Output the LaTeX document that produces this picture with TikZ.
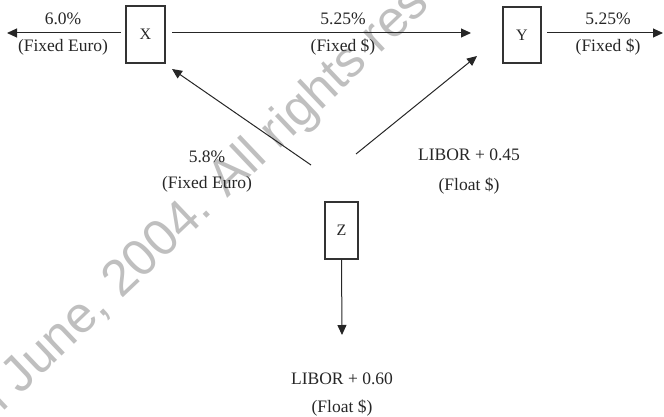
\documentclass[tikz,border=0pt]{standalone}
\usepackage{fontspec}
\setmainfont{Liberation Serif}
\newfontfamily\wmfont{Liberation Sans}
\usetikzlibrary{arrows.meta}
\begin{document}
\begin{tikzpicture}[x=1pt,y=-1pt,
  party/.style={draw=black!80, line width=1.3pt, minimum width=#1, inner sep=0pt,
    font=\fontsize{16}{18}\selectfont, text=black!85},
  lbl/.style={inner sep=0pt, font=\fontsize{17.5}{20}\selectfont, text=black!85},
  flow/.style={draw=black!85, line width=1pt, -{Triangle[length=10pt,width=9pt]}},
  wm/.style={inner sep=0pt, text=black!25, font=\wmfont\fontsize{51}{55}\selectfont}]
\useasboundingbox (0,0) rectangle (664,417);
\begin{scope}
\clip (0,0) rectangle (664,417);
\node[wm, anchor=base west, rotate=43.5] (wmark) at (2,413) {l June, 2004. All rights reserved};
\end{scope}
% parties
\node[party=39pt, minimum height=57pt] (X) at (145.5,34.5) {X};
\node[party=38pt, minimum height=56pt] (Y) at (522,35) {Y};
\node[party=33pt, minimum height=57pt] (Z) at (341.5,230.5) {Z};
% connector end points
\coordinate (xl) at (121,33);
\coordinate (xout) at (7,33);
\coordinate (xr) at (172,33);
\coordinate (yin) at (471,33);
\coordinate (yr) at (547,33);
\coordinate (yout) at (663,33);
\coordinate (zx) at (311,165);
\coordinate (xin) at (172,69);
\coordinate (zy) at (356,154);
\coordinate (yin2) at (477,56);
\coordinate (zout) at (342,335);
% flows
\draw[flow] (xl) -- (xout);
\draw[flow] (xr) -- (yin);
\draw[flow] (yr) -- (yout);
\draw[flow] (zx) -- (xin);
\draw[flow] (zy) -- (yin2);
\draw[flow] (Z.south) -- (zout);
% labels
\node[lbl] (l1a) at (63,19) {6.0\%};
\node[lbl] (l1b) at (63,47) {(Fixed Euro)};
\node[lbl] (l2a) at (343,19) {5.25\%};
\node[lbl] (l2b) at (343,47) {(Fixed \$)};
\node[lbl] (l3a) at (608,19) {5.25\%};
\node[lbl] (l3b) at (608,47) {(Fixed \$)};
\node[lbl] (l4a) at (207,157) {5.8\%};
\node[lbl] (l4b) at (207,184) {(Fixed Euro)};
\node[lbl] (l5a) at (469,155) {LIBOR + 0.45};
\node[lbl] (l5b) at (469,186) {(Float \$)};
\node[lbl] (l6a) at (342,379) {LIBOR + 0.60};
\node[lbl] (l6b) at (342,408) {(Float \$)};
\end{tikzpicture}
\end{document}
